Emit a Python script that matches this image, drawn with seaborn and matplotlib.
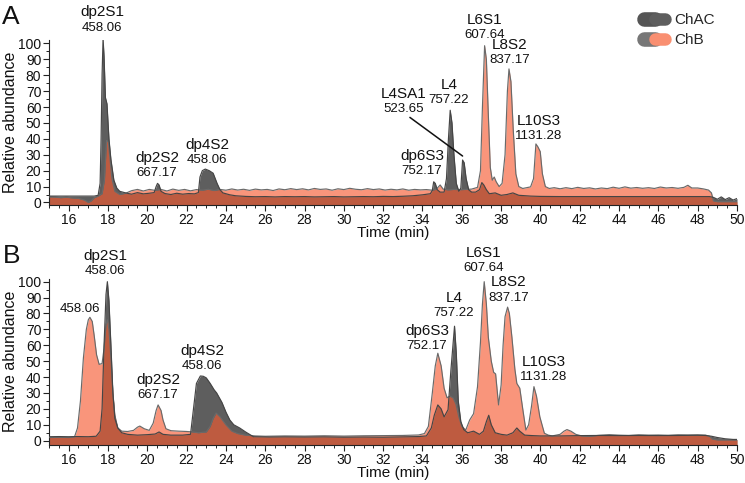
import numpy as np
import pandas as pd
import matplotlib
matplotlib.use("Agg")
import matplotlib.pyplot as plt
import seaborn as sns
from matplotlib.lines import Line2D
from matplotlib.legend_handler import HandlerTuple
from matplotlib.ticker import MultipleLocator

sns.set_theme(style="ticks")
plt.rcParams["font.family"] = ["Liberation Sans", "DejaVu Sans"]

# ---------------- Panel A data ----------------
A_T_CHAC = [15.0, 15.5, 16.0, 16.5, 17.0, 17.3, 17.5, 17.6, 17.65, 17.7, 17.75, 17.8, 17.87, 17.95,
            18.05, 18.15, 18.3, 18.45, 18.6, 18.9, 19.2, 19.5, 19.8, 20.1, 20.35, 20.45, 20.52, 20.6,
            20.7, 20.9, 21.2, 21.5, 21.8, 22.1, 22.4, 22.6, 22.68, 22.8, 22.95, 23.15, 23.35, 23.55,
            23.7, 23.85, 24.2, 24.5, 25.0, 25.5, 26.0, 26.5, 27.0, 27.5, 28.0, 28.5, 29.0, 29.5, 30.0,
            30.5, 31.0, 31.5, 32.0, 32.5, 33.0, 33.5, 34.0, 34.4, 34.5, 34.57, 34.65, 34.75, 34.9,
            35.1, 35.22, 35.32, 35.41, 35.5, 35.6, 35.72, 35.85, 35.95, 36.04, 36.12, 36.22, 36.35,
            36.5, 36.7, 36.9, 37.02, 37.12, 37.25, 37.4, 37.7, 38.0, 38.3, 38.6, 38.9, 39.5, 40.0,
            41.0, 42.0, 43.0, 44.0, 45.0, 46.0, 47.0, 48.0, 48.6, 48.8, 49.0, 49.2, 49.4, 49.6,
            49.8, 50.0]
A_CHAC = [4.0, 4.0, 4.0, 4.0, 4.0, 4.0, 4.5, 12, 40, 80, 103, 92, 66, 62,
          40, 27, 14, 9, 7, 6.0, 5.2, 6.2, 5.4, 5.8, 6.2, 10, 12, 11,
          7, 5.6, 5.0, 5.8, 5.2, 5.6, 5.4, 6.2, 16, 20, 21, 20, 18.4, 12,
          8, 6.0, 4.8, 4.2, 3.8, 3.6, 3.7, 3.5, 3.7, 3.6, 3.7, 3.5, 3.6, 3.7, 3.5,
          3.6, 3.7, 3.6, 3.8, 3.7, 3.9, 4.2, 4.8, 5.5, 7.5, 13, 12, 8, 6.5,
          6.5, 15, 40, 58, 50, 30, 12, 7, 9, 26.7, 25, 15, 8,
          6.5, 6.5, 8, 12.5, 11, 8, 5.5, 6, 4.5, 5, 6, 4.5, 4.0, 3.8,
          3.7, 3.7, 3.7, 3.7, 3.7, 3.7, 3.7, 3.7, 3.7, 3.2, 2.0, 3.5, 1.8, 3.0,
          1.5, 2.5]

A_T_CHB = [15.0, 15.3, 15.6, 15.9, 16.2, 16.5, 16.8, 17.0, 17.15, 17.3, 17.5, 17.7, 17.82, 17.93,
           18.02, 18.1, 18.2, 18.35, 18.6, 18.9, 19.2, 19.5, 19.8, 20.1, 20.4, 20.7, 21.0, 21.3,
           21.6, 21.9, 22.2, 22.5, 22.8, 23.1, 23.4, 23.7, 24.0, 24.3, 24.6, 24.9, 25.2, 25.5, 25.8,
           26.1, 26.4, 26.7, 27.0, 27.3, 27.6, 27.9, 28.2, 28.5, 28.8, 29.1, 29.4, 29.7, 30.0, 30.3,
           30.6, 30.9, 31.2, 31.5, 31.8, 32.1, 32.4, 32.7, 33.0, 33.3, 33.6, 33.9, 34.2, 34.5, 34.7,
           34.9, 35.05, 35.3, 35.6, 35.9, 36.2, 36.5, 36.8, 36.95, 37.05, 37.16, 37.25, 37.35, 37.45,
           37.55, 37.65, 37.75, 37.9, 38.05, 38.2, 38.32, 38.4, 38.5, 38.62, 38.75, 38.9, 39.1, 39.3,
           39.5, 39.65, 39.77, 39.87, 39.99, 40.1, 40.25, 40.45, 40.7, 41.0, 41.3, 41.6, 41.9, 42.2,
           42.5, 42.8, 43.1, 43.4, 43.7, 44.0, 44.3, 44.6, 44.9, 45.2, 45.5, 45.8, 46.1, 46.4, 46.7,
           47.0, 47.3, 47.5, 47.7, 48.0, 48.3, 48.55, 48.7, 48.8, 49.0, 50.0]
A_CHB = [3.5, 3.4, 3.0, 3.3, 2.8, 2.6, 1.5, 0.0, 1.0, 3.0, 4.0, 5.5, 14, 39,
         38, 28, 15, 7, 5, 5.8, 7.4, 8.2, 7.2, 8.2, 7.6, 8.2, 7.2, 8.4,
         7.6, 8.2, 7.3, 8.1, 7.7, 8.3, 7.5, 8.2, 7.7, 8.5, 7.8, 8.3, 7.6, 8.4, 7.9,
         8.2, 7.5, 8.5, 8.0, 8.7, 8.1, 8.6, 7.9, 8.8, 8.2, 8.5, 7.7, 8.6, 8.1, 8.9,
         8.3, 8.0, 8.7, 8.1, 8.5, 7.8, 8.3, 7.9, 8.5, 7.7, 8.2, 7.9, 8.1, 7.7, 8.3,
         11, 8.4, 7.9, 8.2, 8.0, 8.2, 8.4, 9.5, 20, 60, 98.6, 90, 55, 22,
         14, 16, 13, 10, 12, 30, 70, 84, 76, 45, 18, 10, 8.8, 9.3,
         9.8, 15, 36.8, 35, 32, 18, 10, 8.8, 9.3, 8.6, 9.3, 8.7, 9.5, 8.8,
         9.2, 8.5, 9.1, 8.7, 9.6, 8.9, 9.8, 9.0, 9.4, 8.9, 9.3, 8.8, 9.7, 9.1, 9.4,
         8.9, 9.5, 10.8, 9.1, 9.1, 8.5, 7.8, 6.0, 1.0, 0.5, 0.5]

# ---------------- Panel B data ----------------
B_T_CHAC = [15.0, 15.5, 16.0, 16.5, 17.0, 17.4, 17.6, 17.7, 17.8, 17.9, 17.97, 18.05, 18.15, 18.25,
            18.35, 18.5, 18.7, 19.0, 19.5, 20.0, 20.4, 20.6, 20.8, 21.2, 21.8, 22.2, 22.35, 22.5,
            22.7, 22.85, 23.0, 23.2, 23.4, 23.53, 23.8, 24.0, 24.2, 24.4, 24.7, 25.0, 25.4, 25.8,
            26.2, 27.0, 28.0, 29.0, 30.0, 31.0, 32.0, 33.0, 33.8, 34.2, 34.45, 34.6, 34.78, 34.95,
            35.1, 35.3, 35.45, 35.63, 35.72, 35.82, 35.95, 36.1, 36.3, 36.6, 36.9, 37.1, 37.25, 37.37,
            37.5, 37.7, 38.0, 38.3, 38.6, 38.8, 38.95, 39.2, 39.6, 40.0, 41.0, 42.0, 43.0, 44.0, 45.0,
            46.0, 47.0, 48.0, 48.4, 48.7, 49.0, 49.4, 49.8, 50.0]
B_CHAC = [2.5, 2.6, 2.5, 2.6, 2.5, 2.8, 6, 20, 60, 92, 100, 88, 60, 30,
          14, 8, 5, 4, 3.5, 3.8, 4.2, 5.5, 4.0, 3.5, 3.5, 4, 20, 36,
          40.7, 40.5, 39.5, 36, 32, 30, 24, 18, 13, 10, 8, 5.5, 2.5, 2.4,
          2.3, 2.4, 2.3, 2.4, 2.2, 2.3, 2.2, 2.4, 2.6, 3.0, 8, 16, 22.5, 20,
          15, 19.5, 45, 72, 55, 25, 12, 7, 5, 6, 4, 6, 12, 16,
          10, 5, 4, 3.5, 5, 8, 6, 3.5, 3.2, 3.0, 3.0, 3.2, 3.3, 3.2, 3.3,
          3.2, 3.3, 3.4, 3.3, 2.8, 2.0, 1.2, 0.8, 0.8]

B_T_CHB = [15.0, 15.5, 16.0, 16.3, 16.45, 16.6, 16.75, 16.9, 17.0, 17.08, 17.2, 17.3, 17.42, 17.55,
           17.7, 17.8, 17.9, 17.97, 18.05, 18.15, 18.25, 18.35, 18.5, 18.7, 19.0, 19.3, 19.5, 19.62,
           19.85, 20.1, 20.3, 20.45, 20.55, 20.7, 20.8, 20.95, 21.2, 21.6, 22.0, 22.3, 22.6, 23.0,
           23.2, 23.35, 23.5, 23.7, 24.0, 24.3, 24.6, 25.0, 25.5, 26.0, 27.0, 28.0, 29.0, 30.0, 31.0,
           32.0, 33.0, 33.8, 34.1, 34.3, 34.5, 34.65, 34.78, 34.95, 35.1, 35.25, 35.4, 35.55, 35.7,
           35.85, 36.0, 36.2, 36.4, 36.6, 36.8, 36.95, 37.05, 37.14, 37.25, 37.35, 37.5, 37.62,
           37.72, 37.87, 38.0, 38.1, 38.2, 38.33, 38.42, 38.55, 38.7, 38.8, 38.95, 39.1, 39.26, 39.4,
           39.55, 39.67, 39.8, 39.97, 40.2, 40.4, 40.6, 41.0, 41.2, 41.35, 41.55, 41.8, 42.1, 42.5,
           43.0, 43.5, 44.0, 44.5, 45.0, 45.5, 46.0, 46.5, 47.0, 47.5, 48.0, 48.4, 48.6, 48.75,
           49.0, 50.0]
B_CHB = [2.0, 2.2, 2.0, 2.5, 8, 25, 52, 70, 76, 77.6, 75, 66, 54, 48,
         48.5, 58, 73, 76, 70, 52, 30, 16, 8, 6.0, 5.8, 6.5, 8.5, 9.2,
         7.5, 6.5, 11, 19, 22.5, 19, 13, 7.5, 6.3, 6.0, 5.8, 5.5, 5.0, 5.5,
         9, 14, 17.4, 15, 10, 6, 4.5, 3.5, 3.0, 2.8, 3.0, 2.9, 3.1, 2.9, 3.1,
         3.2, 3.3, 3.6, 4.5, 9, 30, 47, 55, 47, 33, 27, 28, 27, 23,
         15, 9, 6.7, 13, 17, 34, 62, 86, 100, 86, 65, 50, 43,
         42, 22.5, 35, 60, 78, 84, 80, 65, 45, 36, 33, 20, 6.7, 10,
         22, 34, 28, 15, 4.7, 3.5, 3.0, 4.0, 6.0, 7.0, 6.0, 4.0, 3.0, 2.8,
         3.4, 3.8, 3.5, 3.3, 3.7, 3.5, 3.6, 3.4, 3.7, 3.6, 3.7, 3.5, 2.8, 1.0,
         0.5, 0.5]

# ---------------- Peak annotations ----------------
A_LABEL_NAMES = ["dp2S1", "dp2S2", "dp4S2", "dp6S3", "L4SA1", "L4", "L6S1", "L8S2", "L10S3"]
A_LABEL_MASS = ["458.06", "667.17", "458.06", "752.17", "523.65", "757.22", "607.64", "837.17", "1131.28"]
A_LABEL_X = [17.70, 20.49, 23.06, 33.97, 33.06, 35.35, 37.18, 38.45, 39.92]
A_LABEL_Y = [119.5, 28, 36, 29.5, 68.5, 74, 115, 99, 51.5]
A_MASS_Y = [110, 18.6, 26.5, 20, 59, 64.5, 105.5, 89.5, 42]

B_LABEL_NAMES = ["dp2S1", "", "dp2S2", "dp4S2", "dp6S3", "L4", "L6S1", "L8S2", "L10S3"]
B_LABEL_MASS = ["458.06", "458.06", "667.17", "458.06", "752.17", "757.22", "607.64", "837.17", "1131.28"]
B_LABEL_X = [17.85, 16.58, 20.54, 22.78, 34.23, 35.6, 37.13, 38.4, 40.18]
B_LABEL_Y = [116, 0, 38, 56.5, 69, 89.5, 118, 99.5, 49.5]
B_MASS_Y = [106.5, 82.8, 28.5, 47, 59.5, 80, 108.5, 90, 40]

SERIES = ["ChAC", "ChB"]

GREY = "#5e5e5e"
SALMON_RAW = "#f65a30"
SALMON_VIS = "#f98f71"
ALPHA = 0.64
EDGE = "#454545"
EDGE2 = "#6a6a6a"

fig = plt.figure(figsize=(7.45, 4.83), dpi=100)
axA = fig.add_axes([49 / 745, 1 - 205 / 483, 688 / 745, (205 - 40.3) / 483])
axB = fig.add_axes([49 / 745, 1 - 445 / 483, 688 / 745, (445 - 278.5) / 483])


def draw_panel(ax, t1, y1, t2, y2, ylim):
    t1 = np.asarray(t1, float); y1 = np.asarray(y1, float)
    t2 = np.asarray(t2, float); y2 = np.asarray(y2, float)
    ax.fill_between(t1, -20, y1, color=GREY, lw=0, zorder=1)
    ax.fill_between(t2, -20, y2, color=SALMON_RAW, alpha=ALPHA, lw=0, zorder=2)
    d1 = pd.DataFrame({"t": t1, "v": y1})
    d2 = pd.DataFrame({"t": t2, "v": y2})
    sns.lineplot(data=d2, x="t", y="v", ax=ax, color=EDGE2, lw=0.85, estimator=None, zorder=3)
    sns.lineplot(data=d1, x="t", y="v", ax=ax, color=EDGE, lw=0.85, estimator=None, zorder=4)
    ax.set_xlim(15, 50)
    ax.set_ylim(*ylim)
    ax.xaxis.set_major_locator(MultipleLocator(2))
    ax.xaxis.set_minor_locator(MultipleLocator(0.5))
    ax.yaxis.set_minor_locator(MultipleLocator(5))
    ax.set_yticks(np.arange(0, 101, 10))
    ax.tick_params(which="major", direction="out", length=4, width=0.8, color="#222",
                   labelsize=10, pad=1.5, labelcolor="#111")
    ax.tick_params(which="minor", direction="out", length=2.5, width=0.7, color="#222")
    for s in ["top", "right"]:
        ax.spines[s].set_visible(False)
    for s in ["left", "bottom"]:
        ax.spines[s].set_linewidth(0.8)
        ax.spines[s].set_color("#222")
    ax.set_xlabel("Time (min)", fontsize=11, labelpad=-0.5, color="#111")
    ax.set_ylabel("Relative abundance", fontsize=11.5, labelpad=0, color="#111")
    ax.set_facecolor("white")


draw_panel(axA, A_T_CHAC, A_CHAC, A_T_CHB, A_CHB, (-1.6, 102))
draw_panel(axB, B_T_CHAC, B_CHAC, B_T_CHB, B_CHB, (-2.7, 102))

for ax, names, masses, xs, ys, ms in [
    (axA, A_LABEL_NAMES, A_LABEL_MASS, A_LABEL_X, A_LABEL_Y, A_MASS_Y),
    (axB, B_LABEL_NAMES, B_LABEL_MASS, B_LABEL_X, B_LABEL_Y, B_MASS_Y),
]:
    for n, m, x, y, my in zip(names, masses, xs, ys, ms):
        if n:
            ax.text(x, y, n, ha="center", va="center", fontsize=11, color="#111",
                    clip_on=False, zorder=6)
        ax.text(x, my, m, ha="center", va="center", fontsize=9.5, color="#111",
                clip_on=False, zorder=6)

# leader line for L4SA1
axA.plot([33.36, 36.04], [53.5, 29.2], color="#111", lw=1.1, clip_on=False, zorder=6)

fig.text(11 / 745, 1 - 17 / 483, "A", fontsize=19, ha="center", va="center", color="#111")
fig.text(12 / 745, 1 - 256 / 483, "B", fontsize=19, ha="center", va="center", color="#111")

h1 = (Line2D([], [], color="#555555", lw=10.5, solid_capstyle="round"),
      Line2D([], [], color=GREY, lw=9, solid_capstyle="round"))
h2 = (Line2D([], [], color="#777777", lw=10.5, solid_capstyle="round"),
      Line2D([], [], color=SALMON_VIS, lw=9, solid_capstyle="round"))
fig.legend(handles=[h1, h2], labels=SERIES, loc="upper left",
           bbox_to_anchor=(644 / 745, 1 - 13 / 483), frameon=False, fontsize=11,
           handlelength=1.4, handletextpad=0.6, labelspacing=0.4, borderpad=0,
           borderaxespad=0, handler_map={tuple: HandlerTuple(ndivide=None)})

fig.savefig("out.png", dpi=100, facecolor="white")
